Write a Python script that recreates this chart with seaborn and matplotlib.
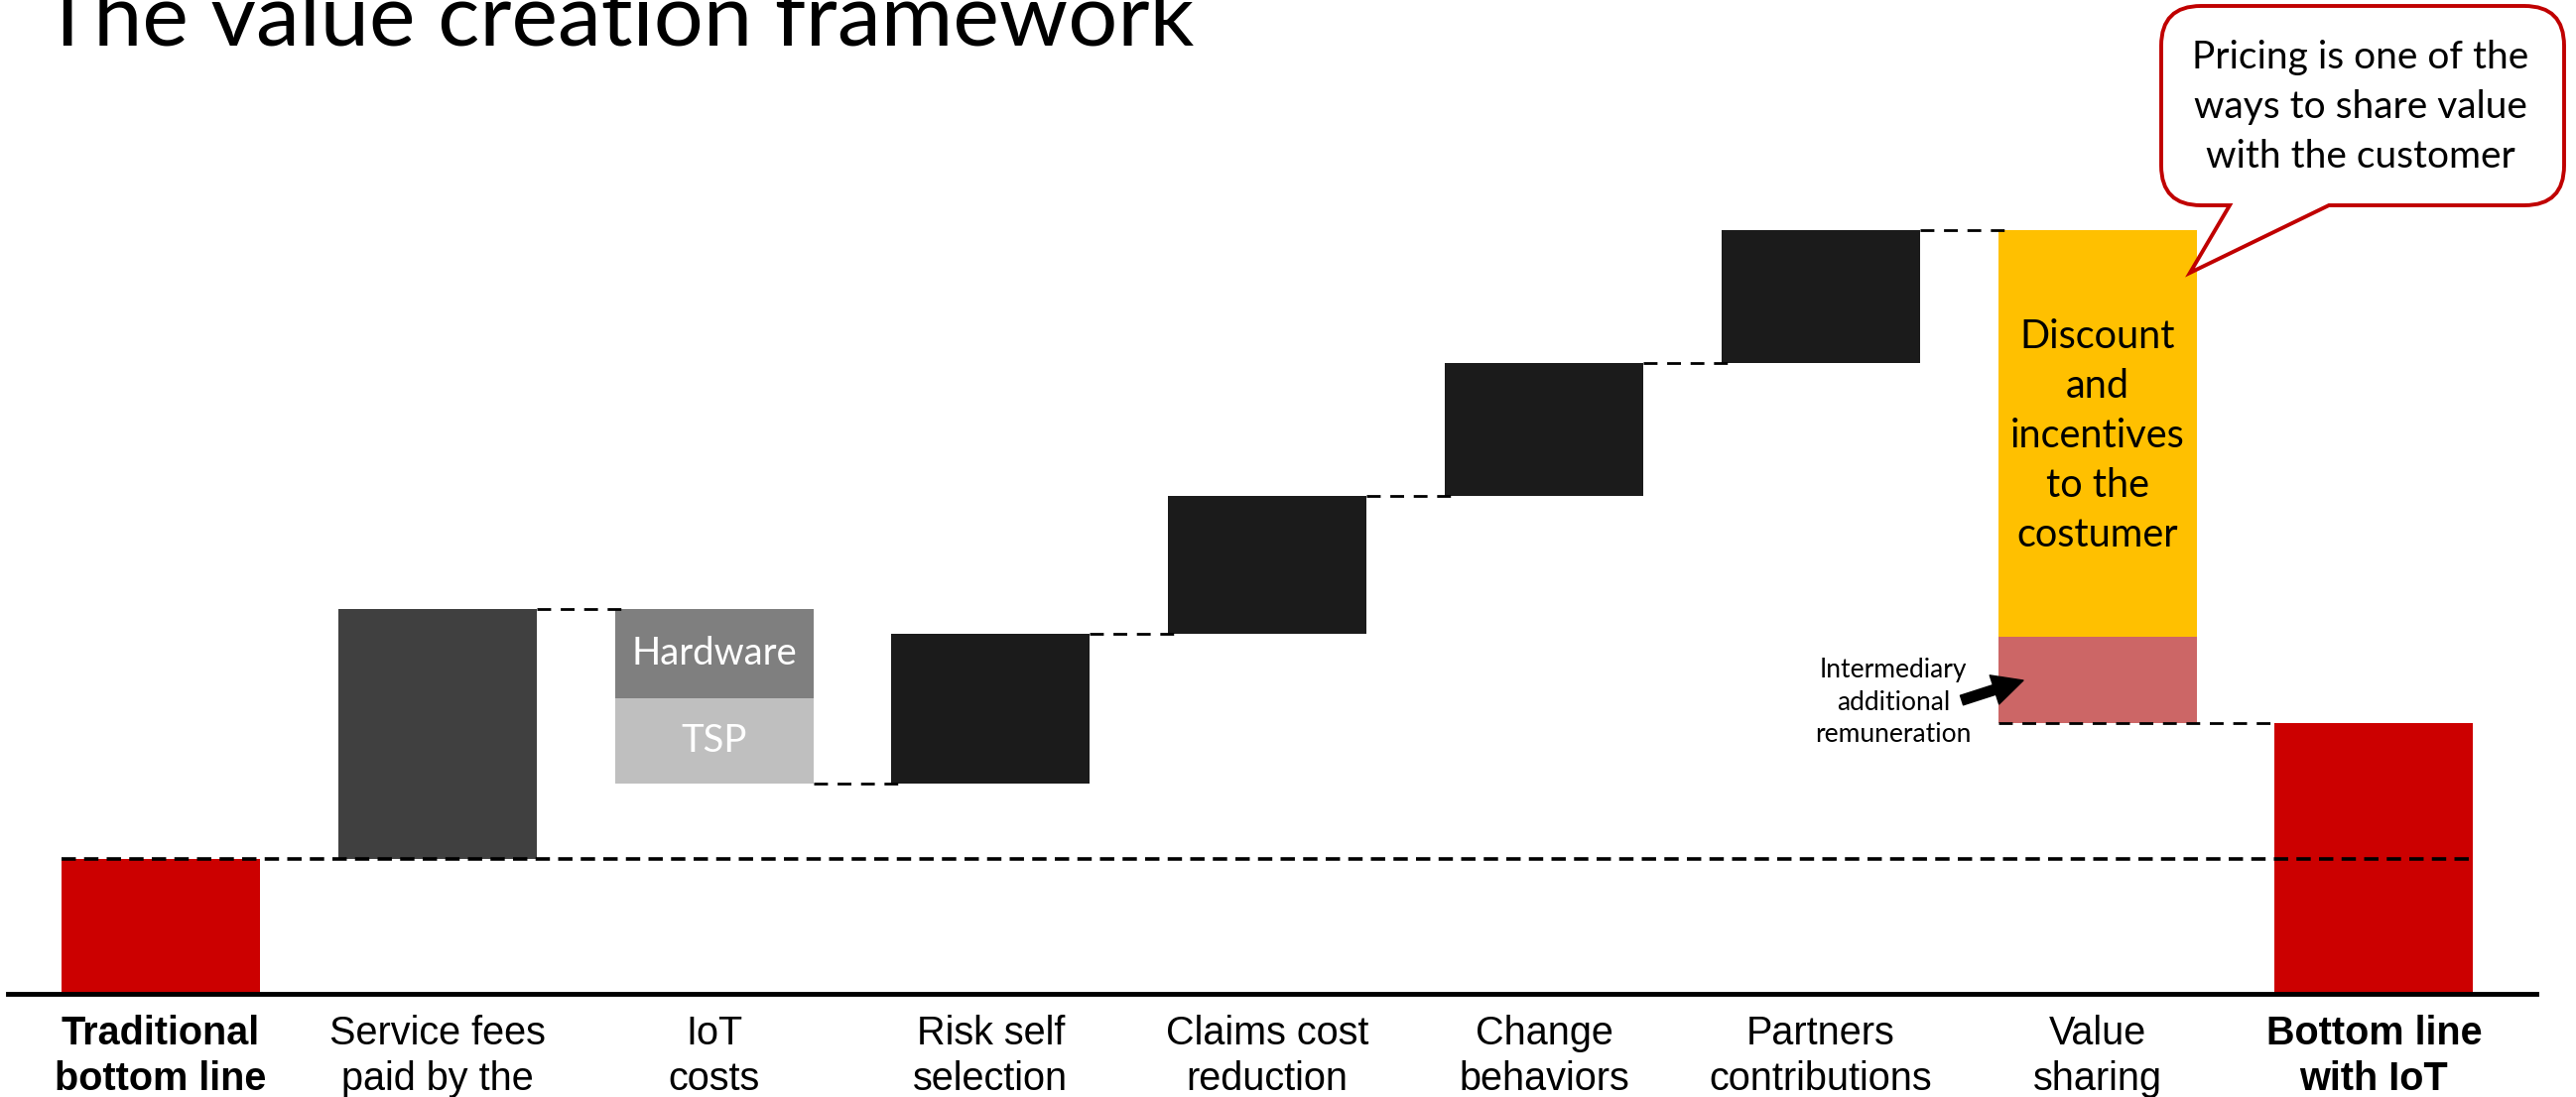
import numpy as np
import matplotlib
matplotlib.use("Agg")
import matplotlib.pyplot as plt
from matplotlib.path import Path
from matplotlib.patches import PathPatch
import seaborn as sns

# ---- data -------------------------------------------------------------
categories = [
    "Traditional\nbottom line", "Service fees\npaid by the", "IoT\ncosts",
    "Risk self\nselection", "Claims cost\nreduction", "Change\nbehaviors",
    "Partners\ncontributions", "Value\nsharing", "Bottom line\nwith IoT",
]
traditional_bottom_line = 100
service_fees = 185
iot_cost_names = ["Hardware", "TSP"]          # top to bottom
iot_cost_values = [66, 63]
value_drivers = [111, 102, 99, 98]            # risk, claims, behaviours, partners
value_sharing_names = ["Discount\nand\nincentives\nto the\ncostumer",
                       "Intermediary\nadditional\nremuneration"]
value_sharing_values = [301, 64]

# ---- style ------------------------------------------------------------
RED = "#CC0000"
DARK = "#404040"
HARDWARE = "#7F7F7F"
TSP = "#BFBFBF"
BLACK = "#1B1B1B"
YELLOW = "#FFC000"
PINK = "#CC6666"
BAR_W = 0.717

sns.set_theme(style="white")
plt.rcParams["font.family"] = ["Lato", "DejaVu Sans"]
plt.rcParams["text.color"] = "black"

W, H = 2596, 1106
fig = plt.figure(figsize=(W / 100, H / 100), dpi=100)
ax = fig.add_axes([8 / W, 104 / H, 2548 / W, 1002 / H])


def fx(px):
    return px / W


def fy(py):
    return 1 - py / H


# ---- build waterfall segments ----------------------------------------
segments = []  # (position, bottom, height, color)
segments.append((0, 0, traditional_bottom_line, RED))
level = traditional_bottom_line
segments.append((1, level, service_fees, DARK))
level += service_fees
top_of_fees = level
iot_colors = [HARDWARE, TSP]
iot_mid = []
for v, c in zip(iot_cost_values, iot_colors):
    level -= v
    segments.append((2, level, v, c))
    iot_mid.append(level + v / 2)
after_iot = level
ends = [top_of_fees, after_iot]
for i, v in enumerate(value_drivers):
    segments.append((3 + i, level, v, BLACK))
    level += v
    ends.append(level)
vs_colors = [YELLOW, PINK]
vs_mid = []
for v, c in zip(value_sharing_values, vs_colors):
    level -= v
    segments.append((7, level, v, c))
    vs_mid.append(level + v / 2)
final_level = level
segments.append((8, 0, final_level, RED))

for pos, b, h, c in segments:
    sns.barplot(x=[pos], y=[h], bottom=b, native_scale=True, width=BAR_W,
                color=c, saturation=1, errorbar=None, linewidth=0,
                edgecolor="none", ax=ax, zorder=2)

# ---- dashed guides ----------------------------------------------------
half = BAR_W / 2
ax.plot([0 - half, 8 + half], [traditional_bottom_line] * 2, color="black",
        lw=2.6, dashes=(4, 2.3), zorder=4)
for i, lv in enumerate(ends):
    x0 = 1 + i + half
    x1 = 2 + i - half + 0.05
    ax.plot([x0, x1], [lv, lv], color="black", lw=2, dashes=(5, 3.5), zorder=4)
ax.plot([7 - half, 8 - half], [final_level] * 2, color="black", lw=2,
        dashes=(5, 3.5), zorder=4)

# ---- in-bar labels ----------------------------------------------------
for name, y in zip(iot_cost_names, iot_mid):
    ax.text(2, y, name, color="white", fontsize=27.5, ha="center", va="center",
            zorder=5)
ax.text(7, vs_mid[0] - 2, value_sharing_names[0], color="black", fontsize=28.5,
        ha="center", va="center", linespacing=1.43, zorder=5)

tx, ty = (1908 - 162) / 278.8, (1002 - 708) / 1.36
ax.text(tx, ty, value_sharing_names[1], fontsize=19, ha="center", va="center",
        linespacing=1.35, zorder=5)
ax.annotate("", xy=((2039 - 162) / 278.8, (1002 - 686) / 1.36),
            xytext=((1977 - 162) / 278.8, (1002 - 706) / 1.36),
            arrowprops=dict(arrowstyle="simple,head_length=1.0,head_width=1.0,tail_width=0.33",
                            mutation_scale=22, color="black", shrinkA=0, shrinkB=0),
            zorder=6)

# ---- axes -------------------------------------------------------------
ax.set_xlim((8 - 162) / 278.8, (2556 - 162) / 278.8)
ax.set_ylim(0, 1002 / 1.36)
ax.set_xticks(range(len(categories)))
ax.set_xticklabels(categories, fontsize=28.5, family=["Liberation Sans"],
                   linespacing=1.27)
for i in (0, len(categories) - 1):
    ax.get_xticklabels()[i].set_fontweight("bold")
ax.tick_params(axis="x", length=0, pad=15, colors="black")
ax.set_yticks([])
ax.set_xlabel("")
ax.set_ylabel("")
for s in ("left", "right", "top"):
    ax.spines[s].set_visible(False)
ax.spines["bottom"].set_color("black")
ax.spines["bottom"].set_linewidth(3.5)
ax.set_facecolor("white")

# ---- title ------------------------------------------------------------
fig.text(fx(42), fy(46), "The value creation framework", fontsize=63.5,
         color="black", va="baseline", ha="left")

# ---- callout bubble ---------------------------------------------------
L, R, T, B, r = 2178, 2584, 6, 207, 40
tail_l, tail_r, tip = 2247, 2347, (2207, 275)
pts = [
    (L + r, T), (R - r, T), (R, T), (R, T + r), (R, B - r), (R, B), (R - r, B),
    (tail_r, B), tip, (tail_l, B), (L + r, B), (L, B), (L, B - r), (L, T + r),
    (L, T), (L + r, T), (L + r, T),
]
codes = [Path.MOVETO, Path.LINETO, Path.CURVE3, Path.CURVE3, Path.LINETO,
         Path.CURVE3, Path.CURVE3, Path.LINETO, Path.LINETO, Path.LINETO,
         Path.LINETO, Path.CURVE3, Path.CURVE3, Path.LINETO, Path.CURVE3,
         Path.CURVE3, Path.CLOSEPOLY]
bubble = Path([(fx(x), fy(y)) for x, y in pts], codes)
fig.patches.append(PathPatch(bubble, facecolor="white", edgecolor="#C00000",
                             lw=2.8, transform=fig.transFigure, zorder=10))
fig.text(fx(2379), fy(108), "Pricing is one of the\nways to share value\nwith the customer",
         fontsize=28, ha="center", va="center", linespacing=1.47, zorder=11)

fig.savefig("out.png", dpi=100, facecolor="white")
